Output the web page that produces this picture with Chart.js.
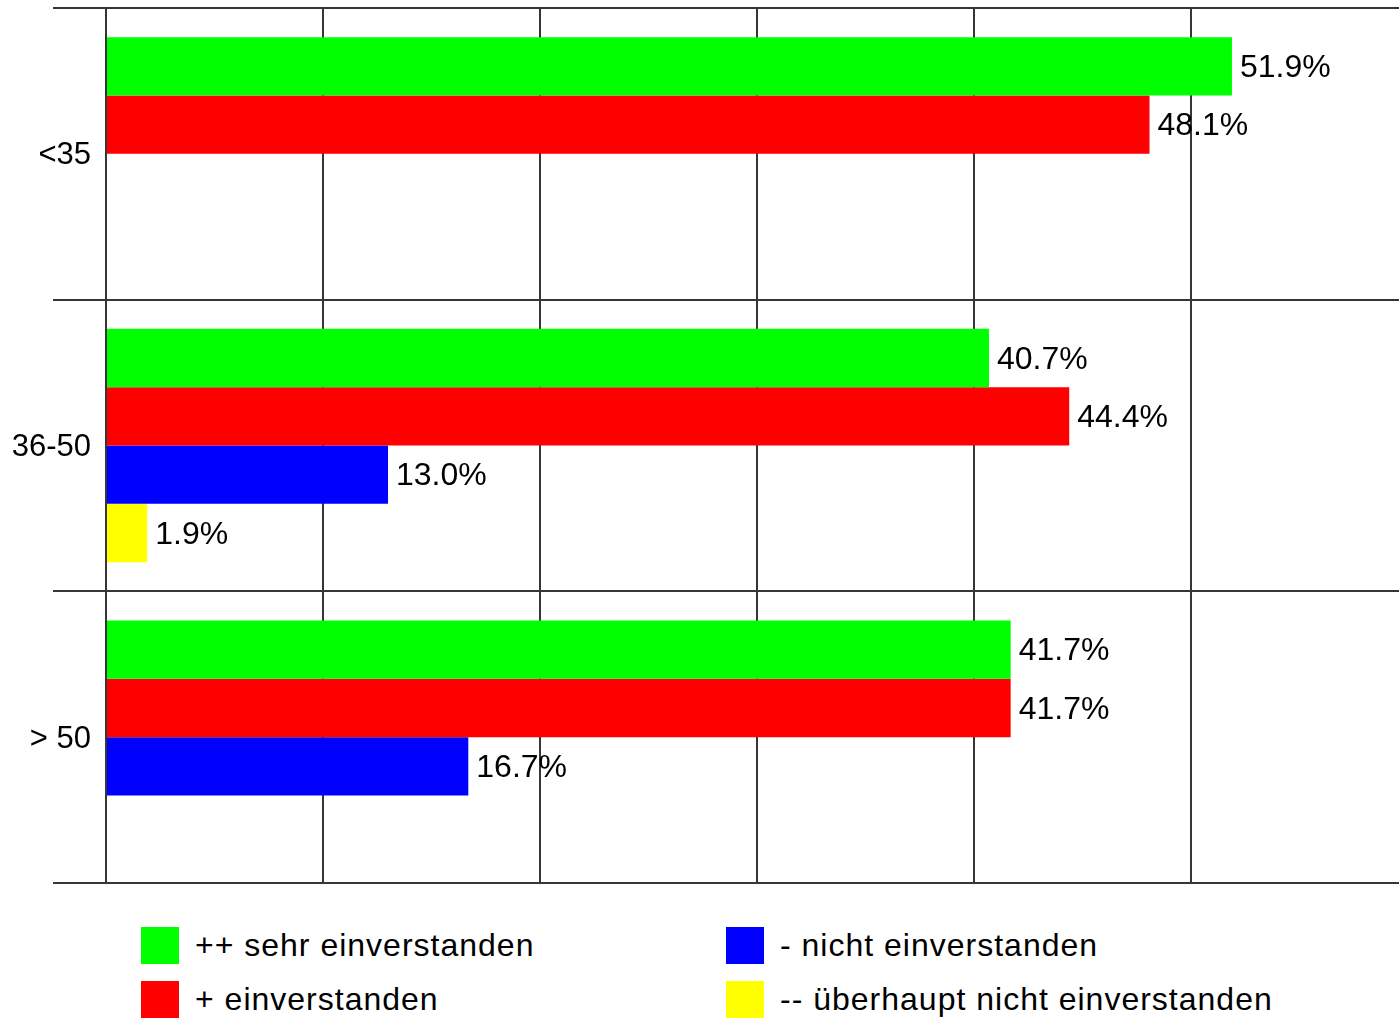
<!DOCTYPE html>
<html>
<head>
<meta charset="utf-8">
<script src="https://cdn.jsdelivr.net/npm/chart.js@4/dist/chart.umd.min.js"></script>
<style>
  html, body { margin: 0; padding: 0; background: #fff; overflow: hidden; }
  #wrap { position: relative; width: 1399px; height: 1018px; }
  #grafico { position: absolute; left: 0; top: 0; }
  .leg-box { position: absolute; width: 38px; height: 37px; }
  .leg-txt {
    position: absolute; font: 32px "Liberation Sans", Arial, sans-serif;
    line-height: 37px; letter-spacing: 1px; color: #000; white-space: nowrap;
  }
</style>
</head>
<body>
<div id="wrap">
  <canvas id="grafico" width="1399" height="886"></canvas>
  <div id="legenda"></div>
</div>
<script>
// Altersgruppen
const kategorien = ["<35", "36-50", "> 50"];

// Anteile in Prozent je Antwort
const sehrEinverstanden = [51.9, 40.7, 41.7];
const einverstanden = [48.1, 44.4, 41.7];
const nichtEinverstanden = [null, 13.0, 16.7];
const ueberhauptNicht = [null, 1.9, null];

const serienNamen = [
  "++ sehr einverstanden",
  "+ einverstanden",
  "- nicht einverstanden",
  "-- überhaupt nicht einverstanden"
];
const farben = ["#00ff00", "#ff0000", "#0000ff", "#ffff00"];

const xTicks = [0, 10, 20, 30, 40, 50];
const xMax = 59.6;

const linienFarbe = "#363636";
const schrift = '"Liberation Sans", Arial, sans-serif';

// Prozentwerte rechts neben den Balken
const wertePlugin = {
  id: "werte",
  afterDatasetsDraw(chart) {
    const ctx = chart.ctx;
    ctx.save();
    ctx.font = "32px " + schrift;
    ctx.fillStyle = "#000";
    ctx.textAlign = "left";
    ctx.textBaseline = "middle";
    chart.data.datasets.forEach((ds, i) => {
      const meta = chart.getDatasetMeta(i);
      meta.data.forEach((bar, j) => {
        const v = ds.data[j];
        if (v === null || v === undefined) return;
        ctx.fillText(v.toFixed(1) + "%", bar.x + 8, bar.y + 2);
      });
    });
    ctx.restore();
  }
};

const series = [sehrEinverstanden, einverstanden, nichtEinverstanden, ueberhauptNicht];

const chart = new Chart(document.getElementById("grafico").getContext("2d"), {
  type: "bar",
  data: {
    labels: kategorien,
    datasets: series.map((werte, i) => ({
      label: serienNamen[i],
      data: werte,
      backgroundColor: farben[i],
      borderWidth: 0,
      categoryPercentage: 0.8,
      barPercentage: 1.0
    }))
  },
  options: {
    indexAxis: "y",
    responsive: false,
    animation: false,
    layout: { padding: { top: 8, right: 0, bottom: 3, left: 0 } },
    plugins: {
      legend: { display: false },
      tooltip: { enabled: false }
    },
    scales: {
      x: {
        min: 0,
        max: xMax,
        afterBuildTicks(scale) {
          scale.ticks = xTicks.map(v => ({ value: v }));
        },
        afterFit(scale) { scale.height = 0; },
        ticks: { display: false },
        grid: { color: linienFarbe, lineWidth: 2, drawTicks: false },
        border: { display: false }
      },
      y: {
        offset: true,
        afterFit(scale) { scale.width = 106; },
        ticks: {
          color: "#000",
          font: { family: schrift, size: 31 },
          padding: -38,
          labelOffset: 2
        },
        grid: {
          offset: true,
          color: linienFarbe,
          lineWidth: 2,
          tickLength: 53
        },
        border: { display: true, color: linienFarbe, width: 2 }
      }
    }
  },
  plugins: [wertePlugin]
});

// Legende in zwei Spalten
const legende = document.getElementById("legenda");
const spaltenX = [141, 726];
const zeilenY = [927, 981];
chart.data.datasets.forEach((ds, i) => {
  const x = spaltenX[Math.floor(i / 2)];
  const y = zeilenY[i % 2];
  const box = document.createElement("div");
  box.className = "leg-box";
  box.style.left = x + "px";
  box.style.top = y + "px";
  box.style.background = ds.backgroundColor;
  const txt = document.createElement("div");
  txt.className = "leg-txt";
  txt.style.left = (x + 54) + "px";
  txt.style.top = y + "px";
  txt.textContent = ds.label;
  legende.appendChild(box);
  legende.appendChild(txt);
});
</script>
</body>
</html>
